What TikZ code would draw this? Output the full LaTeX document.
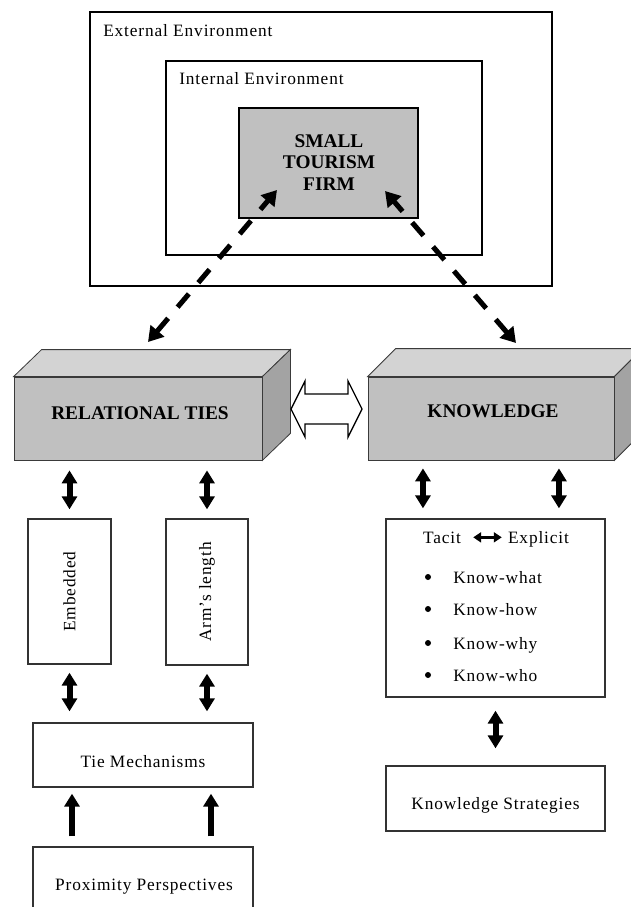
\documentclass[tikz,border=0pt]{standalone}
\usepackage{fontspec}
\setmainfont{Liberation Serif}
\newfontfamily\bodyfont[LetterSpace=5]{Liberation Serif}
\usetikzlibrary{arrows.meta,calc,fit}

\definecolor{firmgray}{HTML}{C0C0C0}
\definecolor{frontgray}{HTML}{C0C0C0}
\definecolor{topgray}{HTML}{D3D3D3}
\definecolor{sidegray}{HTML}{A3A3A3}
\definecolor{edgegray}{HTML}{3A3A3A}
\definecolor{boxline}{HTML}{333333}

\tikzset{
  envbox/.style={draw=black, line width=2.2pt, inner sep=0pt},
  face/.style={draw=edgegray, line width=0.6pt, fill=frontgray, inner sep=0pt},
  plainbox/.style={draw=boxline, line width=1pt, fill=white, inner sep=0pt},
  body/.style={font=\bodyfont\fontsize{13}{15}\selectfont, inner sep=0pt},
  title/.style={font=\fontsize{14.5}{15.75}\selectfont\bfseries, inner sep=0pt, align=center},
  dblarrow/.style={line width=4.5pt, {Triangle[width=11.25pt,length=9.75pt]}-{Triangle[width=11.25pt,length=9.75pt]}},
  uparrow/.style={line width=4.5pt, -{Triangle[width=11.25pt,length=9.75pt]}},
  smallarrow/.style={line width=2pt, {Triangle[width=7.5pt,length=6pt]}-{Triangle[width=7.5pt,length=6pt]}},
  dasharrow/.style={line width=3.8pt, dash pattern=on 13pt off 11pt,
    {Triangle[width=13pt,length=11pt]}-{Triangle[width=13pt,length=11pt]}},
  hollow/.style={draw=black, line width=1pt, fill=white, line join=miter},
  bulletdot/.style={circle, fill=black, inner sep=0pt, minimum size=4.5pt},
}

\begin{document}
\begin{tikzpicture}[x=0.75pt,y=-0.75pt]
\useasboundingbox (0,0) rectangle (631,907);
\fill[white] (0,0) rectangle (631,907);
\clip (0,0) rectangle (631,907);

% nested environments around the firm
\node[envbox, fit={(90,12) (552,286)}] (ext) {};
\node[envbox, fit={(166,61) (482,255)}] (int) {};
\node[envbox, fill=firmgray, fit={(239,108) (418,218)}] (firm) {};
\node[title, anchor=base] (firm1) at (329,147) {SMALL};
\node[title, anchor=base] (firm2) at (329,168) {TOURISM};
\node[title, anchor=base] (firm3) at (329,190) {FIRM};
\node[body, anchor=base west] (extlbl) at (103,36) {External Environment};
\node[body, anchor=base west] (intlbl) at (179,84) {Internal Environment};

% relational ties block
\node[face, fit={(14,377) (262,460)}] (rel) {};
\filldraw[fill=topgray, draw=edgegray, line width=0.6pt]
  (rel.north west) -- ++(28,-27) -- ([shift={(28,-27)}]rel.north east) -- (rel.north east) -- cycle;
\filldraw[fill=sidegray, draw=edgegray, line width=0.6pt]
  (rel.north east) -- ++(28,-27) -- ([shift={(28,-27)}]rel.south east) -- (rel.south east) -- cycle;
\node[title, anchor=base] (reltxt) at (140,419) {RELATIONAL TIES};

% knowledge block
\node[face, fit={(368,377) (614,460)}] (know) {};
\filldraw[fill=topgray, draw=edgegray, line width=0.6pt]
  (know.north west) -- ++(28,-28) -- ([shift={(28,-28)}]know.north east) -- (know.north east) -- cycle;
\filldraw[fill=sidegray, draw=edgegray, line width=0.6pt]
  (know.north east) -- ++(28,-28) -- ([shift={(28,-28)}]know.south east) -- (know.south east) -- cycle;
\node[title, anchor=base] (knowtxt) at (493,417) {KNOWLEDGE};

% hollow two-way arrow between the blocks
\coordinate (hx) at (326.5,409);
\draw[hollow, shift={(hx)}]
  (-35.5,0) -- (-21.5,-28) -- (-21.5,-15) -- (21.5,-15) -- (21.5,-28) -- (35.5,0)
  -- (21.5,28) -- (21.5,15) -- (-21.5,15) -- (-21.5,28) -- cycle;

% dashed links between the firm and the two blocks
\coordinate (firmL) at (277,190);
\coordinate (firmR) at (385,191);
\coordinate (relTop) at (148,342);
\coordinate (knowTop) at (516,343);
\draw[dasharrow] (relTop) -- (firmL);
\draw[dasharrow] (knowTop) -- (firmR);

% left column
\node[plainbox, fit={(28,519) (111,664)}] (emb) {};
\node[plainbox, fit={(166,519) (248,665)}] (arm) {};
\node[body, rotate=90] (embtxt) at (emb) {Embedded};
\node[body, rotate=90] (armtxt) at (arm) {Arm’s length};
\node[plainbox, fit={(33,723) (253,787)}] (tie) {};
\node[body, anchor=base] (tietxt) at (143,767) {Tie Mechanisms};
\node[plainbox, fit={(33,847) (253,915)}] (prox) {};
\node[body, anchor=base] (proxtxt) at (144,890) {Proximity Perspectives};

\draw[dblarrow, shorten <=7.5pt, shorten >=6.75pt] (rel.south -| emb) -- (emb.north);
\draw[dblarrow, shorten <=7.5pt, shorten >=6.75pt] (rel.south -| arm) -- (arm.north);
\draw[dblarrow, shorten <=6pt, shorten >=8.25pt] (emb.south) -- (emb.south |- tie.north);
\draw[dblarrow, shorten <=6pt, shorten >=8.25pt] (arm.south) -- (arm.south |- tie.north);
\draw[uparrow, shorten <=7.5pt, shorten >=4.5pt] ([xshift=-53.25pt]prox.north) -- ([xshift=-53.25pt]tie.south);
\draw[uparrow, shorten <=7.5pt, shorten >=4.5pt] ([xshift=51pt]prox.north) -- ([xshift=51pt]tie.south);

% right column
\node[plainbox, fit={(386,519) (605,697)}] (list) {};
\node[body, anchor=base] (tacit) at (442,543) {Tacit};
\node[body, anchor=base] (expl) at (538.5,543) {Explicit};
\draw[smallarrow, shorten <=9pt, shorten >=4.5pt] (tacit.east) -- (tacit.east -| expl.west);

\node[bulletdot] (b1) at (428,577) {};
\node[bulletdot] (b2) at (428,609) {};
\node[bulletdot] (b3) at (428,643) {};
\node[bulletdot] (b4) at (428,675) {};
\node[body, anchor=base west] (k1) at (453,583) {Know-what};
\node[body, anchor=base west] (k2) at (453,615) {Know-how};
\node[body, anchor=base west] (k3) at (453,649) {Know-why};
\node[body, anchor=base west] (k4) at (453,681) {Know-who};

\node[plainbox, fit={(386,766) (605,831)}] (strat) {};
\node[body, anchor=base] (strattxt) at (495.5,809) {Knowledge Strategies};

\coordinate (kl) at ([xshift=-54.4pt]list.north);
\coordinate (kr) at ([xshift=47.6pt]list.north);
\draw[dblarrow, shorten <=6pt, shorten >=7.5pt] (know.south -| kl) -- (kl);
\draw[dblarrow, shorten <=6pt, shorten >=7.5pt] (know.south -| kr) -- (kr);
\draw[dblarrow, shorten <=9.75pt, shorten >=12.75pt] (list.south) -- (strat.north);
\end{tikzpicture}
\end{document}
